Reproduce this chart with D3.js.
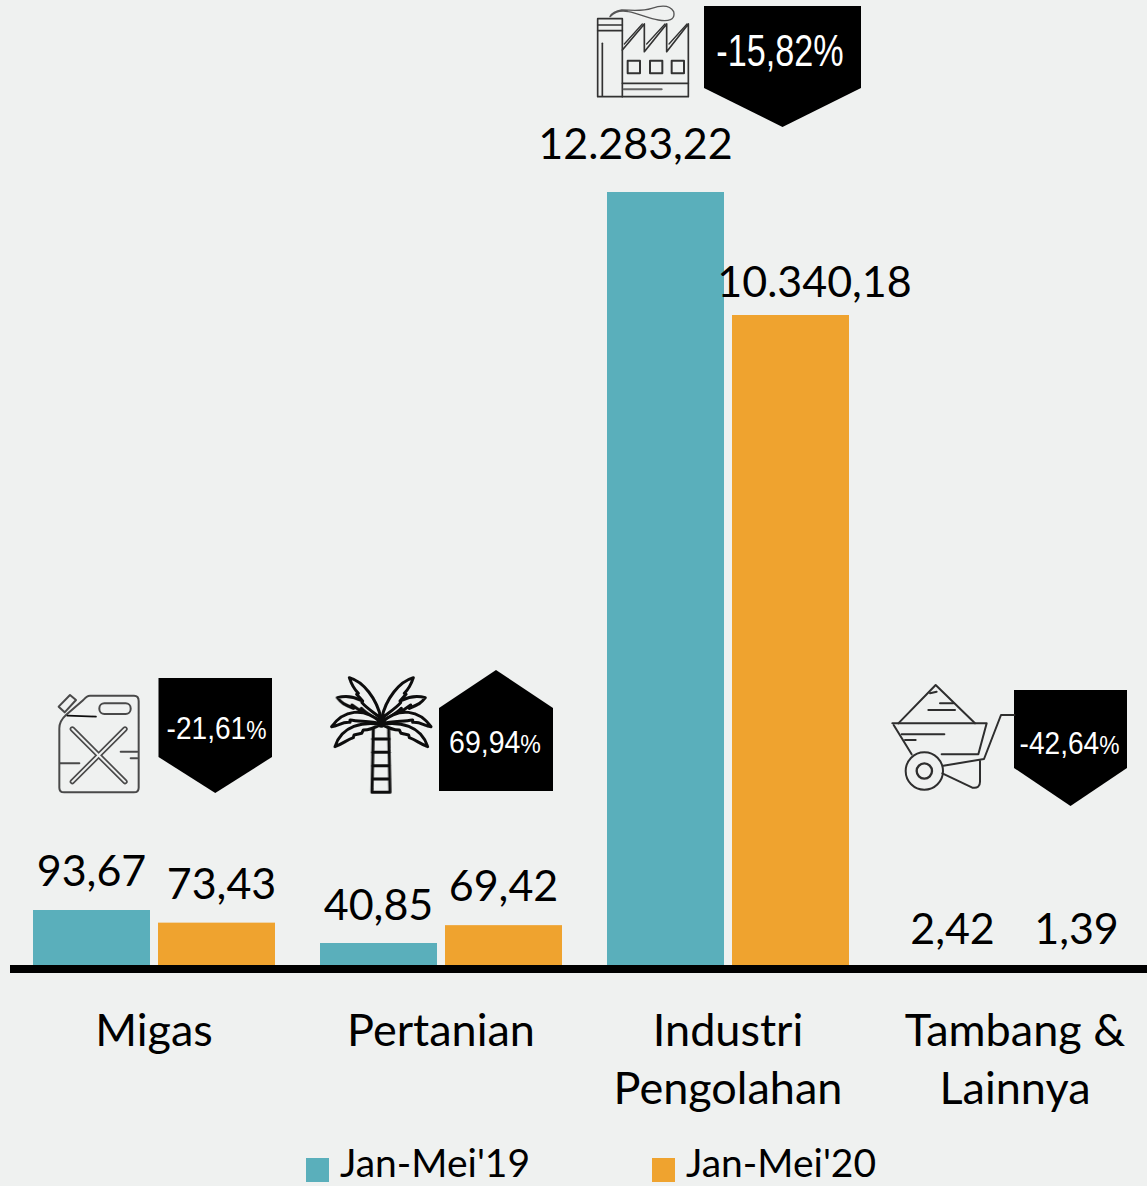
<!DOCTYPE html>
<html><head><meta charset="utf-8">
<script src="https://cdn.jsdelivr.net/npm/d3@7/dist/d3.min.js"></script>
<style>html,body{margin:0;padding:0;background:#eff1f0;overflow:hidden}svg{display:block}</style>
</head><body><div id="chart"></div>
<script>
const categories=[["Migas"],["Pertanian"],["Industri","Pengolahan"],["Tambang &","Lainnya"]];
const categoryKeys=["Migas","Pertanian","Industri Pengolahan","Tambang & Lainnya"];
const seriesNames=["Jan-Mei'19","Jan-Mei'20"];
const values2019=[93.67,40.85,12283.22,2.42];
const values2020=[73.43,69.42,10340.18,1.39];
const labels2019=["93,67","40,85","12.283,22","2,42"];
const labels2020=["73,43","69,42","10.340,18","1,39"];
const changeNumbers=["-21,61","69,94","-15,82","-42,64"];

const W=1147,H=1186,BASE=965;
const C={bg:"#eff1f0",teal:"#5aafbb",orange:"#efa32f"};
const FONT="Lato, Carlito, Calibri, sans-serif";
const NARROW="'Liberation Sans', Arial, sans-serif";

const svg=d3.select("#chart").append("svg").attr("width",W).attr("height",H);
svg.append("rect").attr("width",W).attr("height",H).attr("fill",C.bg);
const defs=svg.append("defs");
defs.append("filter").attr("id","soft").append("feGaussianBlur").attr("stdDeviation",1.3);

const x=d3.scaleBand().domain(categoryKeys).range([10.5,1158.5]);
const x1=d3.scaleBand().domain([0,1]).range([x.step()/2-121,x.step()/2+121]).paddingInner(0.064).paddingOuter(0);
// the source's value axis is not linear: small and large values sit on different lengths, and the tiny bars have no height
const y=d3.scaleLinear().domain([2.42,40.85,93.67,10340.18,12283.22]).range([BASE,943,910,315,192]).clamp(true);

[values2019,values2020].forEach((vals,s)=>{
  svg.append("g").selectAll("rect").data(vals).join("rect")
    .attr("x",(d,i)=>x(categoryKeys[i])+x1(s)).attr("width",x1.bandwidth())
    .attr("y",d=>y(d)).attr("height",d=>BASE-y(d))
    .attr("fill",s?C.orange:C.teal);
});

// value labels
const labelDx=[[0,5],[0,0],[-30,24],[0,-1]];
const labelDy=[[24,24],[23,24],[33,18],[21,21]];
[labels2019,labels2020].forEach((labs,s)=>{
  const vals=s?values2020:values2019;
  svg.append("g").selectAll("text").data(labs).join("text")
    .attr("x",(d,i)=>x(categoryKeys[i])+x1(s)+x1.bandwidth()/2+labelDx[i][s])
    .attr("y",(d,i)=>y(vals[i])-labelDy[i][s])
    .attr("text-anchor","middle").attr("font-family",FONT).attr("font-size",43).attr("fill","#000").text(d=>d);
});

// axis line
const axisG=svg.append("g").attr("transform",`translate(0,${BASE+4})`)
  .call(d3.axisBottom(x).tickSize(0).tickFormat(""));
axisG.select(".domain").attr("d","M10,0H1147").attr("stroke","#000").attr("stroke-width",8);

// category labels
svg.append("g").selectAll("text").data(categories).join("text")
  .attr("text-anchor","middle").attr("font-family",FONT).attr("font-size",45).attr("fill","#000")
  .each(function(lines,i){
    d3.select(this).selectAll("tspan").data(lines).join("tspan")
      .attr("x",x(categoryKeys[i])+x.bandwidth()/2).attr("y",(d,k)=>1046+k*58).text(d=>d);
  });

// legend
const legX=[306,652];
seriesNames.forEach((n,i)=>{
  svg.append("rect").attr("x",legX[i]).attr("y",1158).attr("width",23).attr("height",24).attr("fill",i?C.orange:C.teal);
  svg.append("text").attr("x",legX[i]+34).attr("y",1177).attr("font-family",FONT).attr("font-size",39).attr("fill","#000").text(n);
});

// change badges
const badgeBox=[
 {x0:158.5,x1:272,top:678,sh:757,tip:793,tx:216.5,ty:739,fs:32,ps:26,sx:.877},
 {x0:439,x1:553,top:670,sh:708,tip:791,tx:495,ty:753,fs:32,ps:26,sx:.89,up:true},
 {x0:704,x1:861,top:6,sh:88,tip:127,tx:780,ty:66,fs:45,ps:45,sx:.76},
 {x0:1014,x1:1127,top:690,sh:768,tip:806,tx:1069.5,ty:754,fs:32,ps:26,sx:.877}
];
badgeBox.forEach((b,i)=>{
  const mid=(b.x0+b.x1)/2;
  const pts=b.up?[[b.x0,b.sh],[mid,b.top],[b.x1,b.sh],[b.x1,b.tip],[b.x0,b.tip]]
                :[[b.x0,b.top],[b.x1,b.top],[b.x1,b.sh],[mid,b.tip],[b.x0,b.sh]];
  svg.append("path").attr("d",d3.line()(pts)+"Z").attr("fill","#000");
  const t=svg.append("text").attr("transform",`translate(${b.tx},${b.ty}) scale(${b.sx},1)`).attr("text-anchor","middle")
    .attr("font-family",NARROW).attr("font-size",b.fs).attr("fill","#fff");
  t.append("tspan").text(changeNumbers[i]);
  t.append("tspan").attr("font-size",b.ps).text("%");
});

// pictograms (traced at 3x, hence the 1/3 scale)
function icon(ox,oy){return svg.append("g").attr("transform",`translate(${ox},${oy}) scale(${1/3})`).attr("fill","none").attr("stroke-linecap","round").attr("stroke-linejoin","round").attr("filter","url(#soft)");}
function P(g,d,st,sw,fill){return g.append("path").attr("d",d).attr("stroke",st).attr("stroke-width",sw).attr("fill",fill||"none");}

// jerrycan
{const g=icon(40,665),c="#4a4a4a";
 P(g,"M150,92 L282,92 Q296,92 296,108 L296,368 Q296,382 282,382 L72,382 Q58,382 58,368 L58,190 Q58,168 78,150 L130,105 Q140,92 150,92Z",c,6);
 P(g,"M56,125 L90,90 L108,105 L74,142Z",c,6);
 g.append("rect").attr("x",178).attr("y",115).attr("width",94).attr("height",32).attr("rx",15).attr("stroke",c).attr("stroke-width",6);
 P(g,"M82,152 L168,155","#111",5);
 P(g,"M97,192 L255,350",c,16); P(g,"M255,192 L97,350",c,16);
 P(g,"M97,192 L255,350",C.bg,6); P(g,"M255,192 L97,350",C.bg,6);
 P(g,"M242,260 L292,260",c,6); P(g,"M272,280 L292,280",c,6); P(g,"M60,295 L118,295",c,6);
}
// palm
{const g=icon(320,665),c="#0c0c0c",sw=9;
 P(g,"M160,190 L156,382 L210,382 L206,190",c,sw);
 [222,262,302,342].forEach(v=>P(g,`M158,${v} L208,${v}`,c,sw));
 const leaves=[
  "M183,165 C150,110 100,85 52,98 C65,115 72,118 100,130 L96,120 L125,140 L124,130 C140,148 160,155 183,170Z",
  "M183,160 C170,100 130,50 88,38 C95,60 100,70 115,85 L110,88 L128,108 L126,113 C140,130 165,145 183,160Z",
  "M183,172 C130,125 70,135 35,185 C55,183 65,170 90,172 L90,165 C120,170 150,168 183,176Z",
  "M183,178 C130,170 65,180 45,245 C70,235 80,225 100,218 L102,210 L125,205 L130,195 C150,195 165,188 183,178Z"];
 leaves.forEach(d=>{P(g,d,c,sw,C.bg);
  g.append("path").attr("d",d).attr("stroke",c).attr("stroke-width",sw).attr("fill",C.bg).attr("transform","translate(368,0) scale(-1,1)");});
 g.append("circle").attr("cx",184).attr("cy",175).attr("r",13).attr("fill",c);
}
// factory
{const g=icon(585,0),c="#333";
 g.append("rect").attr("x",38).attr("y",56).attr("width",74).attr("height",234).attr("stroke",c).attr("stroke-width",5);
 P(g,"M38,75 L112,75 M38,92 L112,92",c,5);
 P(g,"M52,130 L52,288",c,5);
 P(g,"M112,150 L178,72 L178,155 L245,72 L245,155 L310,72 L310,290 L112,290",c,5);
 P(g,"M118,132 L172,72 M185,132 L240,72 M252,132 L306,72",c,4);
 [128,195,260].forEach(v=>g.append("rect").attr("x",v).attr("y",182).attr("width",37).attr("height",38).attr("stroke",c).attr("stroke-width",6));
 P(g,"M112,250 L310,250",c,5); P(g,"M116,268 L230,268","#666",6);
 P(g,"M75,50 C90,35 110,30 130,35 C160,40 190,55 220,60 C250,65 272,60 266,35 C255,15 230,15 200,25 C170,35 140,30 110,30 C95,32 80,40 75,50","#555",4);
}
// wheelbarrow
{const g=icon(885,675),c="#2e2e2e";
 P(g,"M40,145 L152,30 L270,145",c,6);
 P(g,"M22,145 L305,145 L280,238 L170,238",c,6);
 P(g,"M26,150 L80,238",c,6);
 P(g,"M130,105 L210,105 M165,85 L205,85 M135,55 L155,50 M50,178 L178,178 M60,195 L92,195",c,6);
 g.append("circle").attr("cx",118).attr("cy",288).attr("r",56).attr("stroke",c).attr("stroke-width",6);
 g.append("circle").attr("cx",118).attr("cy",288).attr("r",23).attr("stroke",c).attr("stroke-width",7);
 P(g,"M175,272 L297,252 L348,120 L388,120",c,6);
 P(g,"M172,295 L262,338 Q285,342 285,320 L285,258",c,6);
}
</script></body></html>
